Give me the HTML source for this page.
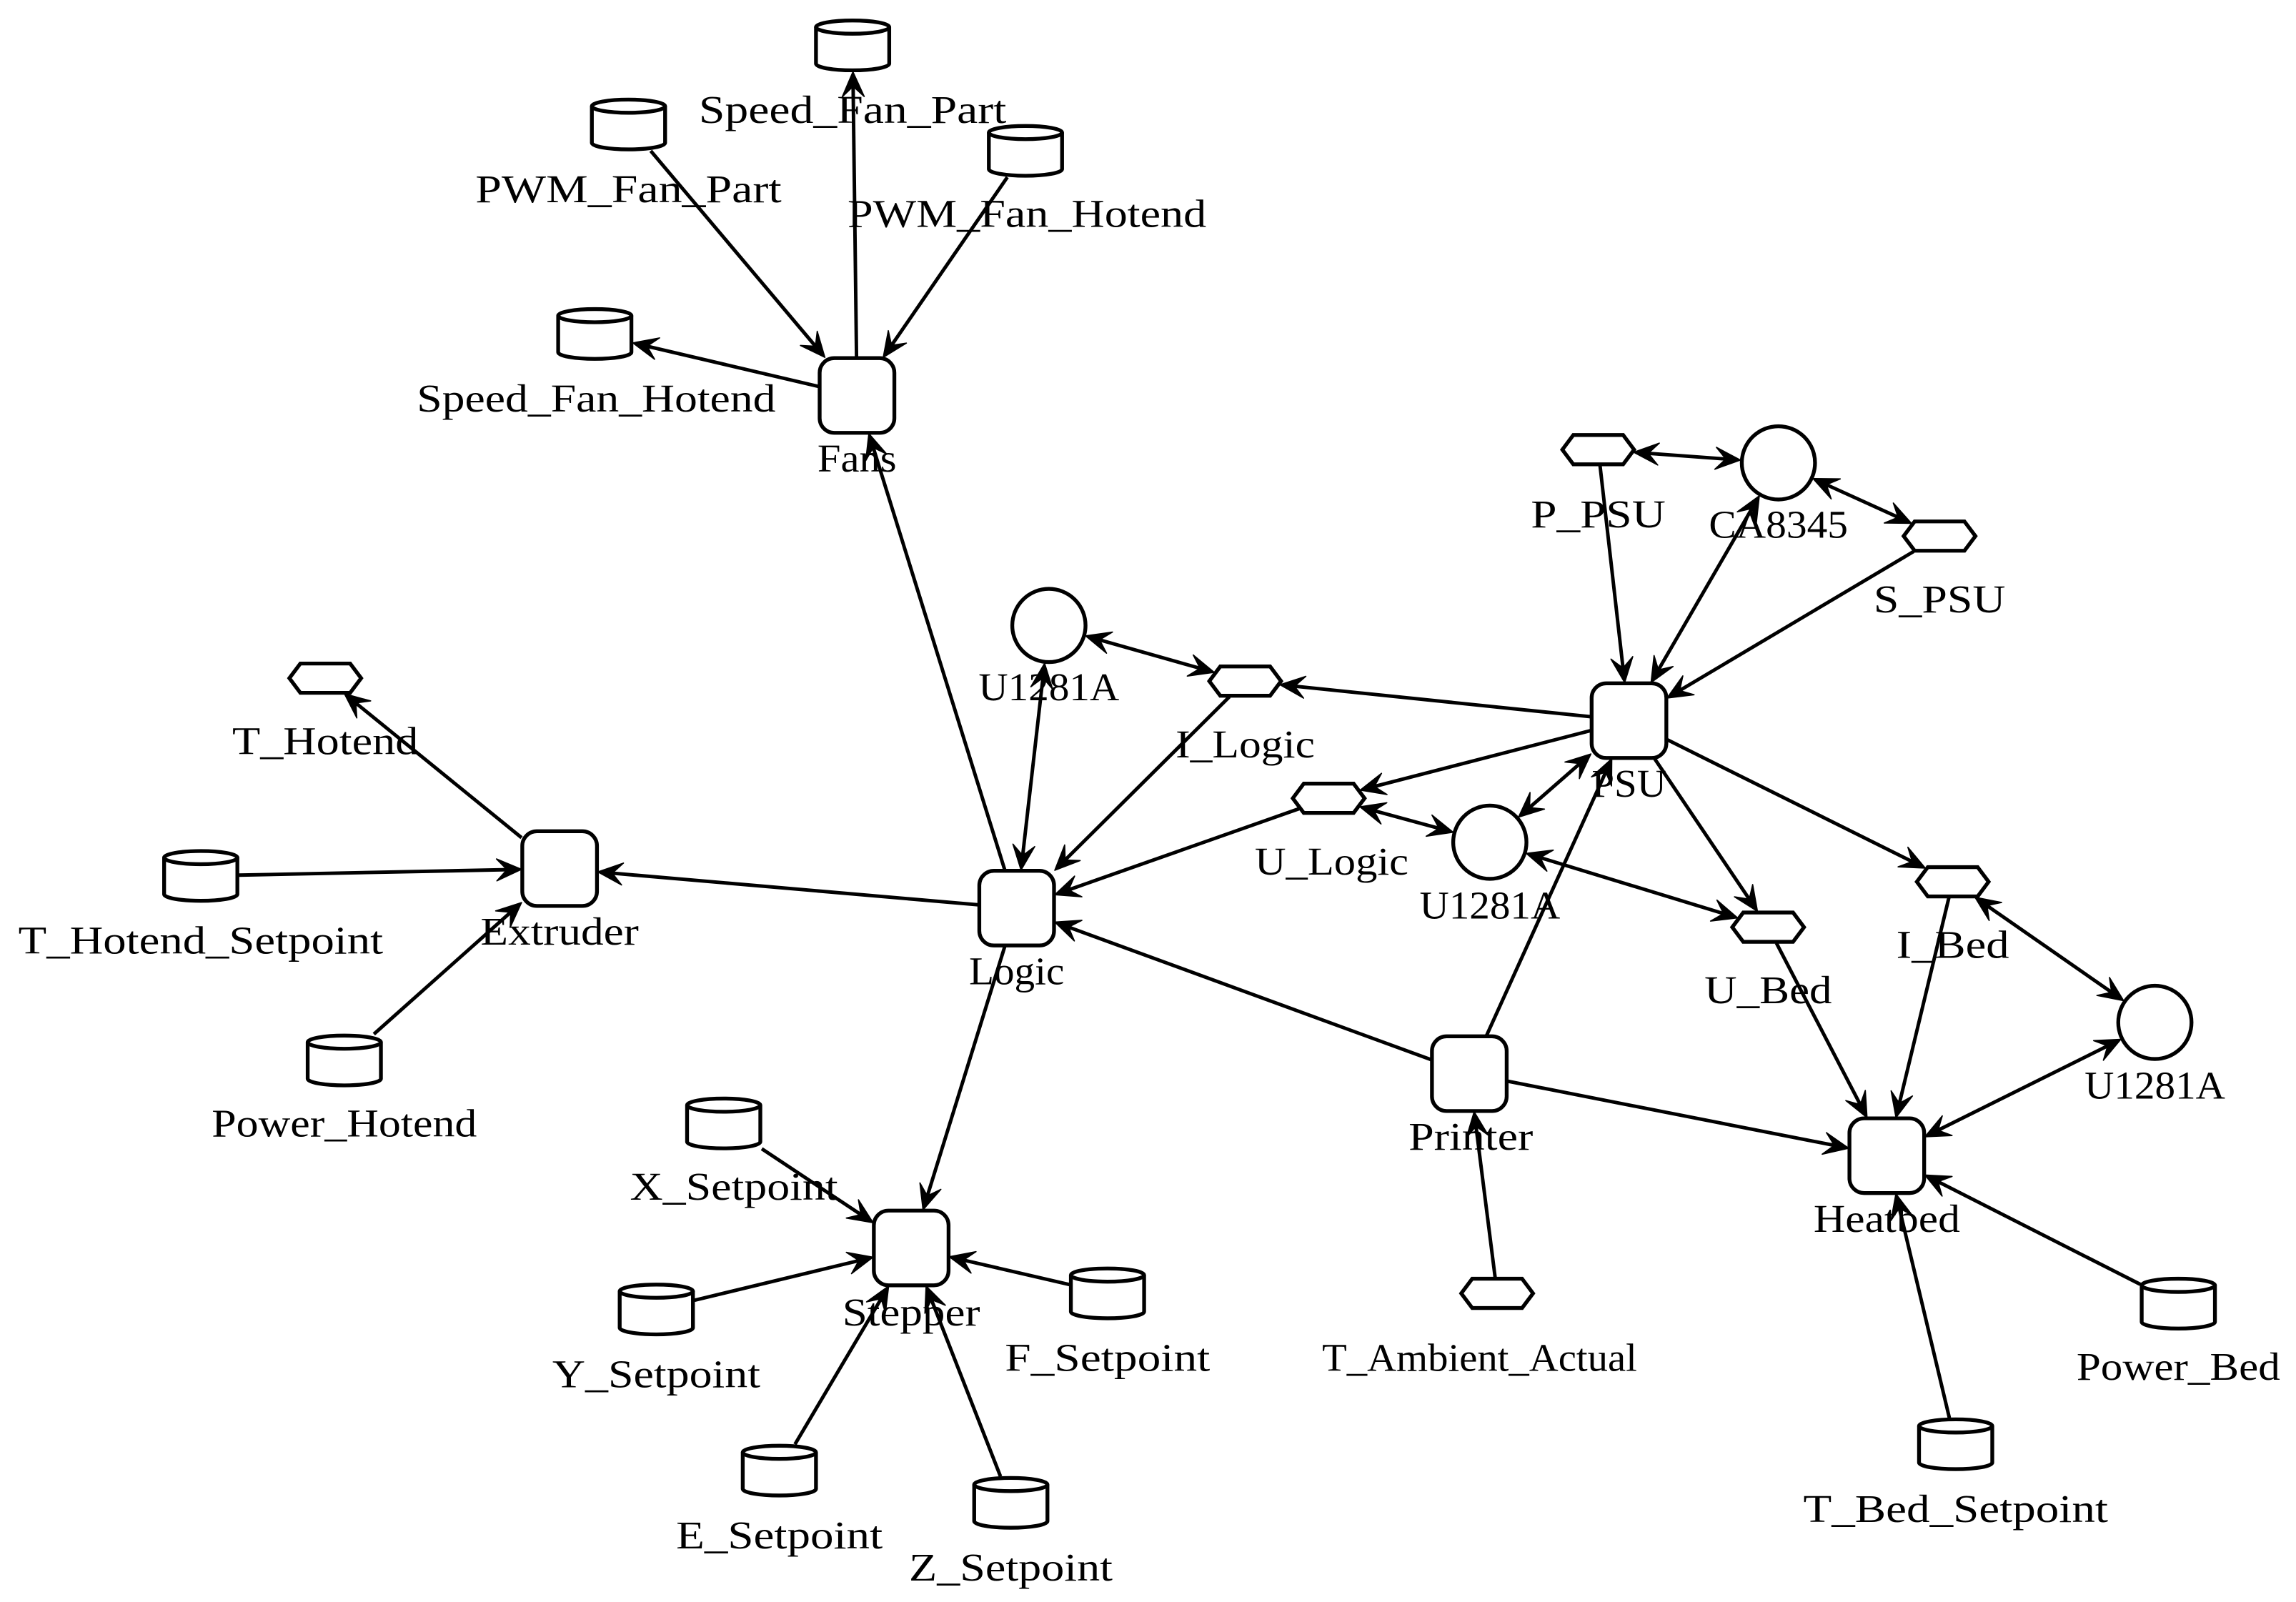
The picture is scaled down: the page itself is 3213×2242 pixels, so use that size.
<!DOCTYPE html>
<html><head><meta charset="utf-8">
<style>
html,body{margin:0;padding:0;background:#fff;}
svg{display:block;}
text{font-family:"Liberation Serif",serif;font-size:27px;fill:#000;}
</style></head>
<body>
<svg id="s" width="3213" height="2242" viewBox="0 0 1567.3 1093.7" xmlns="http://www.w3.org/2000/svg">
<rect x="0" y="0" width="1567.3" height="1093.7" fill="#fff"/>
<g id="edges"></g>
<g id="nodes"></g>
<g text-anchor="middle">
<text x="582" y="84" textLength="210" lengthAdjust="spacingAndGlyphs">Speed_Fan_Part</text>
<text x="429" y="138" textLength="209" lengthAdjust="spacingAndGlyphs">PWM_Fan_Part</text>
<text x="701" y="155" textLength="245" lengthAdjust="spacingAndGlyphs">PWM_Fan_Hotend</text>
<text x="407" y="281" textLength="245" lengthAdjust="spacingAndGlyphs">Speed_Fan_Hotend</text>
<text x="585" y="322" textLength="54" lengthAdjust="spacingAndGlyphs">Fans</text>
<text x="1091" y="360" textLength="92" lengthAdjust="spacingAndGlyphs">P_PSU</text>
<text x="1214" y="367" textLength="95" lengthAdjust="spacingAndGlyphs">CA8345</text>
<text x="1324" y="418" textLength="90" lengthAdjust="spacingAndGlyphs">S_PSU</text>
<text x="716" y="478" textLength="96" lengthAdjust="spacingAndGlyphs">U1281A</text>
<text x="222" y="515" textLength="127" lengthAdjust="spacingAndGlyphs">T_Hotend</text>
<text x="850" y="517" textLength="95" lengthAdjust="spacingAndGlyphs">I_Logic</text>
<text x="1112" y="544" textLength="51" lengthAdjust="spacingAndGlyphs">PSU</text>
<text x="909" y="597" textLength="105" lengthAdjust="spacingAndGlyphs">U_Logic</text>
<text x="1017" y="627" textLength="96" lengthAdjust="spacingAndGlyphs">U1281A</text>
<text x="382" y="645" textLength="108" lengthAdjust="spacingAndGlyphs">Extruder</text>
<text x="137" y="651" textLength="249" lengthAdjust="spacingAndGlyphs">T_Hotend_Setpoint</text>
<text x="694" y="672" textLength="65" lengthAdjust="spacingAndGlyphs">Logic</text>
<text x="1333" y="654" textLength="77" lengthAdjust="spacingAndGlyphs">I_Bed</text>
<text x="1207" y="685" textLength="87" lengthAdjust="spacingAndGlyphs">U_Bed</text>
<text x="1471" y="750" textLength="96" lengthAdjust="spacingAndGlyphs">U1281A</text>
<text x="235" y="776" textLength="181" lengthAdjust="spacingAndGlyphs">Power_Hotend</text>
<text x="1004" y="785" textLength="85" lengthAdjust="spacingAndGlyphs">Printer</text>
<text x="501" y="819" textLength="142" lengthAdjust="spacingAndGlyphs">X_Setpoint</text>
<text x="1288" y="841" textLength="100" lengthAdjust="spacingAndGlyphs">Heatbed</text>
<text x="622" y="905" textLength="94" lengthAdjust="spacingAndGlyphs">Stepper</text>
<text x="756" y="936" textLength="140" lengthAdjust="spacingAndGlyphs">F_Setpoint</text>
<text x="1010" y="936" textLength="215" lengthAdjust="spacingAndGlyphs">T_Ambient_Actual</text>
<text x="448" y="947" textLength="142" lengthAdjust="spacingAndGlyphs">Y_Setpoint</text>
<text x="532" y="1057" textLength="141" lengthAdjust="spacingAndGlyphs">E_Setpoint</text>
<text x="1487" y="942" textLength="139" lengthAdjust="spacingAndGlyphs">Power_Bed</text>
<text x="1335" y="1039" textLength="208" lengthAdjust="spacingAndGlyphs">T_Bed_Setpoint</text>
<text x="690" y="1079" textLength="139" lengthAdjust="spacingAndGlyphs">Z_Setpoint</text>
</g>
</svg>
<script>
(function(){
var NS="http://www.w3.org/2000/svg";
var N={
Fans:['b',585,270],PSU:['b',1112,492],Logic:['b',694,620],Extruder:['b',382,593],Stepper:['b',622,852],Printer:['b',1003,733],Heatbed:['b',1288,789],
U1:['c',716,427],CA:['c',1214,316],U2:['c',1017,575],U3:['c',1471,698],
THot:['h',222,463],ILog:['h',850,465],PPSU:['h',1091,307],SPSU:['h',1324,366],ULog:['h',907,545],UBed:['h',1207,633],IBed:['h',1333,602],TAmb:['h',1022,883],
SFP:['y',582,31],PFP:['y',429,85],PFH:['y',700,103],SFH:['y',406,228],THS:['y',137,598],PH:['y',235,724],XS:['y',494,767],YS:['y',448,894],ES:['y',532,1004],ZS:['y',690,1026],FS:['y',756,883],PB:['y',1487,890],TBS:['y',1335,986]
};
var E=[
['Fans','SFP',0],['PFP','Fans',0],['PFH','Fans',0],['Fans','SFH',0],['Logic','Fans',0],
['Logic','U1',1],['U1','ILog',1],['ILog','Logic',0],['PSU','ILog',0],['PSU','ULog',0],['ULog','Logic',0],
['ULog','U2',1],['U2','PSU',1],['U2','UBed',1],['PSU','UBed',0],['PSU','IBed',0],
['PPSU','CA',1],['PPSU','PSU',0],['CA','PSU',1],['CA','SPSU',1],['SPSU','PSU',0],
['Printer','PSU',0],['Printer','Logic',0],['Printer','Heatbed',0],['TAmb','Printer',0],
['UBed','Heatbed',0],['IBed','Heatbed',0],['IBed','U3',1],['U3','Heatbed',1],['PB','Heatbed',0],['TBS','Heatbed',0],
['Logic','Extruder',0],['Extruder','THot',0],['THS','Extruder',0],['PH','Extruder',0],
['Logic','Stepper',0],['XS','Stepper',0],['YS','Stepper',0],['ES','Stepper',0],['ZS','Stepper',0],['FS','Stepper',0]
];
var HEX=[[-24.5,0],[-17,-10],[17,-10],[24.5,0],[17,10],[-17,10]];
function rayPoly(P,dx,dy){var best=1e9;for(var i=0;i<P.length;i++){var a=P[i],b=P[(i+1)%P.length];var ex=b[0]-a[0],ey=b[1]-a[1];var den=dx*ey-dy*ex;if(Math.abs(den)<1e-9)continue;var t=(a[0]*ey-a[1]*ex)/den;var u=(a[0]*dy-a[1]*dx)/den;if(t>0&&u>=-1e-6&&u<=1+1e-6&&t<best)best=t;}return best;}
function rect(hw,hh,dx,dy){return Math.min(Math.abs(dx)>1e-9?hw/Math.abs(dx):1e9,Math.abs(dy)>1e-9?hh/Math.abs(dy):1e9);}
function clip(n,dx,dy){var t=n[0];if(t=='c')return 26;if(t=='b')return rect(26,26,dx,dy);if(t=='h')return rayPoly(HEX,dx,dy)+1;return rect(26,18,dx,dy);}
function el(tag,at,p){var e=document.createElementNS(NS,tag);for(var k in at)e.setAttribute(k,at[k]);p.appendChild(e);return e;}
var ge=document.getElementById('edges'),gn=document.getElementById('nodes');
var L=17,W=7.5,INN=10;
function head(x,y,dx,dy){var px=-dy,py=dx;var bx=x-dx*L,by=y-dy*L;var ix=x-dx*INN,iy=y-dy*INN;
el('polygon',{points:[x,y,bx+px*W,by+py*W,ix,iy,bx-px*W,by-py*W].join(' '),fill:'#000',stroke:'#000','stroke-width':0.8,'stroke-linejoin':'round'},ge);}
E.forEach(function(e){var A=N[e[0]],B=N[e[1]];var dx=B[1]-A[1],dy=B[2]-A[2];var d=Math.hypot(dx,dy);dx/=d;dy/=d;
var ta=clip(A,dx,dy),tb=clip(B,-dx,-dy);var x1=A[1]+dx*ta,y1=A[2]+dy*ta,x2=B[1]-dx*tb,y2=B[2]-dy*tb;
var lx1=x1,ly1=y1,lx2=x2-dx*INN,ly2=y2-dy*INN;
if(e[2]){lx1=x1+dx*INN;ly1=y1+dy*INN;head(x1,y1,-dx,-dy);}
head(x2,y2,dx,dy);
el('line',{x1:lx1,y1:ly1,x2:lx2,y2:ly2,stroke:'#000','stroke-width':2.4},ge);});
var sw=2.6;
for(var k in N){var n=N[k],x=n[1],y=n[2];
if(n[0]=='b')el('rect',{x:x-25.5,y:y-25.5,width:51,height:51,rx:10,ry:10,fill:'#fff',stroke:'#000','stroke-width':sw},gn);
else if(n[0]=='c')el('circle',{cx:x,cy:y,r:25,fill:'#fff',stroke:'#000','stroke-width':sw},gn);
else if(n[0]=='h')el('polygon',{points:HEX.map(function(p){return (x+p[0])+','+(y+p[1]);}).join(' '),fill:'#fff',stroke:'#000','stroke-width':sw,'stroke-linejoin':'miter'},gn);
else{var hw=25,top=y-17,bot=y+17,ry=4.5;
el('path',{d:'M'+(x-hw)+','+(top+ry)+' L'+(x-hw)+','+(bot-ry)+' A'+hw+','+ry+' 0 0 0 '+(x+hw)+','+(bot-ry)+' L'+(x+hw)+','+(top+ry)+' A'+hw+','+ry+' 0 0 0 '+(x-hw)+','+(top+ry)+' Z',fill:'#fff',stroke:'#000','stroke-width':sw},gn);
el('path',{d:'M'+(x-hw)+','+(top+ry)+' A'+hw+','+ry+' 0 0 0 '+(x+hw)+','+(top+ry),fill:'none',stroke:'#000','stroke-width':sw},gn);}
}
})();
</script>
</body></html>
